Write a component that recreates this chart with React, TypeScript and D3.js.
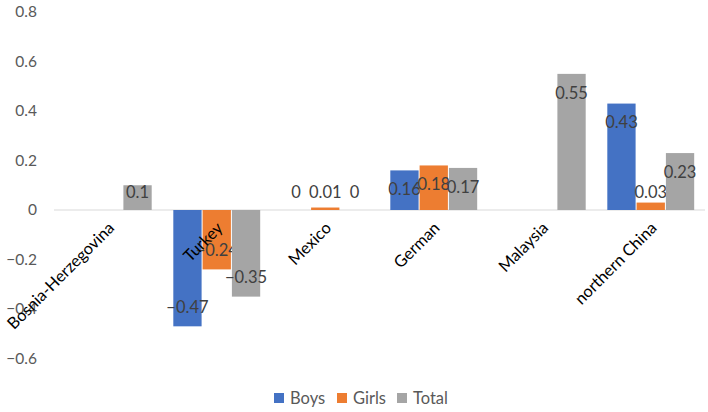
import * as d3 from "d3";
import React from "react";

const categories = ["Bosnia-Herzegovina", "Turkey", "Mexico", "German", "Malaysia", "northern China"];
const seriesNames = ["Boys", "Girls", "Total"];
const boys: (number | null)[] = [null, -0.47, 0, 0.16, null, 0.43];
const girls: (number | null)[] = [null, -0.24, 0.01, 0.18, null, 0.03];
const total: (number | null)[] = [0.1, -0.35, 0, 0.17, 0.55, 0.23];
const yTicks = [-0.6, -0.4, -0.2, 0, 0.2, 0.4, 0.6, 0.8];

const colors = ["#4472C4", "#ED7D31", "#A5A5A5"];
const font = "Lato, 'Open Sans', sans-serif";

export default function App() {
    const width = 708;
    const height = 412;
    const values = [boys, girls, total];

    const x0 = d3.scaleBand<string>()
        .domain(categories)
        .range([54, 705])
        .paddingInner(0.19)
        .paddingOuter(0.095);

    const x1 = d3.scaleBand<string>()
        .domain(seriesNames)
        .range([0, x0.bandwidth()]);

    const y = d3.scaleLinear()
        .domain([-0.6, 0.8])
        .range([358.5, 12]);

    const y0 = y(0);
    const fmt = (v: number) => (v === 0 ? "0" : d3.format("")(v));

    const legendX = [274, 337, 397];

    return (
        <svg width={width} height={height} style={{position: "absolute", left: 0, top: 0}}>
            <rect width={width} height={height} fill="#fff"/>
            {
                yTicks.map((t) => (
                    <text
                        key={t}
                        x={37}
                        y={y(t)}
                        dy="0.35em"
                        textAnchor="end"
                        fontFamily={font}
                        fontSize={15.5}
                        fill="#595959"
                    >
                        {d3.format("")(t)}
                    </text>
                ))
            }
            <line x1={54} x2={705} y1={y0} y2={y0} stroke="#D9D9D9" strokeWidth={1}/>
            {
                categories.map((c, i) => (
                    <g key={c} transform={`translate(${x0(c)},0)`}>
                        {
                            seriesNames.map((s, j) => {
                                const v = values[j][i];
                                if (v === null) return null;
                                const bx = x1(s)!;
                                const top = Math.min(y(v), y0);
                                const h = Math.abs(y(v) - y0);
                                const ly = v >= 0
                                    ? Math.min(y(v) + 19, y0 - 18)
                                    : Math.max(y(v) - 19, y0 + 18);
                                return (
                                    <g key={s}>
                                        <rect
                                            x={bx + 0.5}
                                            y={top}
                                            width={x1.bandwidth() - 1}
                                            height={h}
                                            fill={colors[j]}
                                        />
                                        <text
                                            x={bx + x1.bandwidth() / 2}
                                            y={ly}
                                            dy="0.35em"
                                            textAnchor="middle"
                                            fontFamily={font}
                                            fontSize={16.5}
                                            fill="#404040"
                                        >
                                            {fmt(v)}
                                        </text>
                                    </g>
                                );
                            })
                        }
                    </g>
                ))
            }
            {
                categories.map((c) => {
                    const cx = x0(c)! + x0.bandwidth() / 2;
                    return (
                        <text
                            key={c}
                            transform={`translate(${cx + 3},${y0 + 15}) rotate(-45)`}
                            textAnchor="end"
                            dy="0.35em"
                            fontFamily={font}
                            fontSize={16.3}
                            fill="#000"
                        >
                            {c}
                        </text>
                    );
                })
            }
            {
                seriesNames.map((s, j) => (
                    <g key={s} transform={`translate(${legendX[j]},398)`}>
                        <rect x={0} y={-5} width={10} height={10} fill={colors[j]}/>
                        <text
                            x={16}
                            y={0}
                            dy="0.35em"
                            fontFamily={font}
                            fontSize={16.5}
                            fill="#595959"
                        >
                            {s}
                        </text>
                    </g>
                ))
            }
        </svg>
    );
}
